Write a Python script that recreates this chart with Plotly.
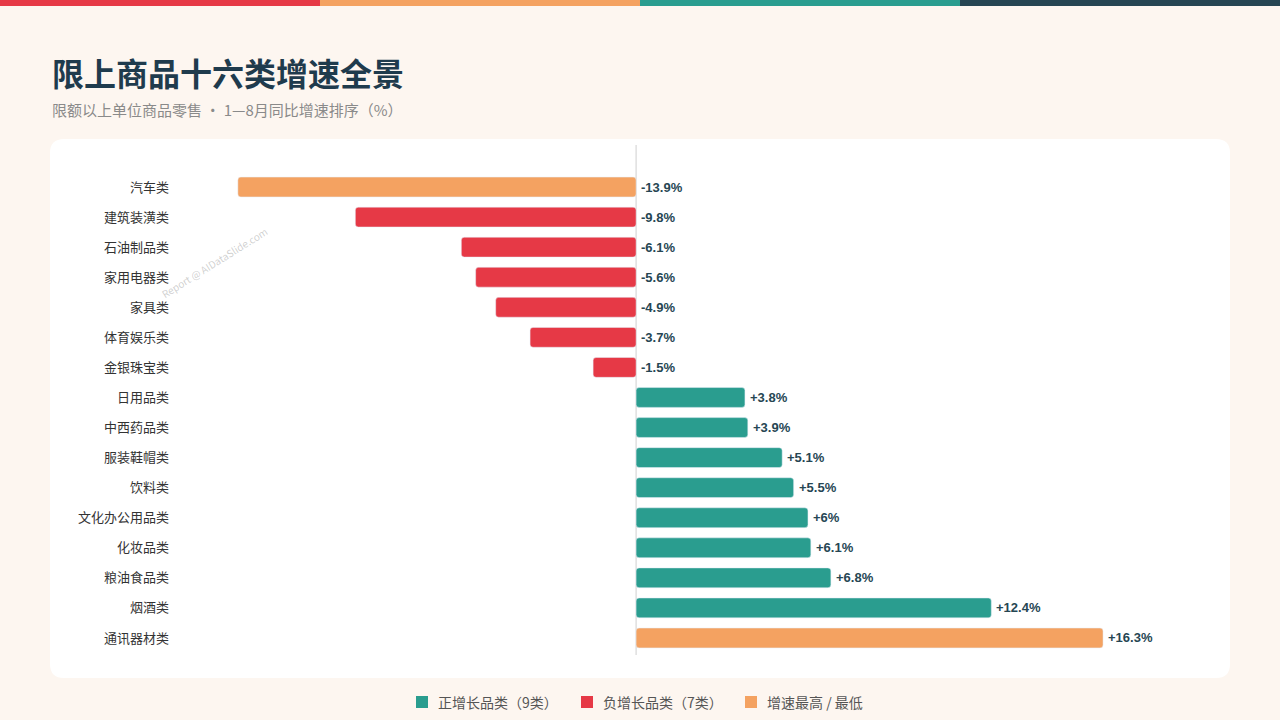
import plotly.graph_objects as go

# data
categories = ['汽车类', '建筑装潢类', '石油制品类', '家用电器类', '家具类', '体育娱乐类', '金银珠宝类',
              '日用品类', '中西药品类', '服装鞋帽类', '饮料类', '文化办公用品类', '化妆品类',
              '粮油食品类', '烟酒类', '通讯器材类']
growth = [-13.9, -9.8, -6.1, -5.6, -4.9, -3.7, -1.5, 3.8, 3.9, 5.1, 5.5, 6, 6.1, 6.8, 12.4, 16.3]
labels = ['-13.9%', '-9.8%', '-6.1%', '-5.6%', '-4.9%', '-3.7%', '-1.5%', '+3.8%', '+3.9%',
          '+5.1%', '+5.5%', '+6%', '+6.1%', '+6.8%', '+12.4%', '+16.3%']

GREEN, RED, ORANGE, DARK = '#2a9d8f', '#e63946', '#f4a261', '#264653'
FONT = 'Noto Sans CJK SC, sans-serif'
vmax, vmin = max(growth), min(growth)
colors = [ORANGE if v in (vmax, vmin) else (GREEN if v > 0 else RED) for v in growth]
base = [min(v, 0) for v in growth]
width = [abs(v) for v in growth]

fig = go.Figure(go.Bar(
    y=categories, x=width, base=base, orientation='h',
    marker=dict(color=colors, cornerradius=3), width=0.66,
    textposition='none', hoverinfo='skip'))

W, H = 1280, 720
px = lambda x: x / W
py = lambda y: 1 - y / H

# rounded card path in pixel coords -> paper
def rounded_rect(x0, y0, x1, y1, r):
    return (f'M {px(x0 + r)} {py(y0)} L {px(x1 - r)} {py(y0)} Q {px(x1)} {py(y0)} {px(x1)} {py(y0 + r)} '
            f'L {px(x1)} {py(y1 - r)} Q {px(x1)} {py(y1)} {px(x1 - r)} {py(y1)} '
            f'L {px(x0 + r)} {py(y1)} Q {px(x0)} {py(y1)} {px(x0)} {py(y1 - r)} '
            f'L {px(x0)} {py(y0 + r)} Q {px(x0)} {py(y0)} {px(x0 + r)} {py(y0)} Z')

shapes = []
# top stripe
for i, col in enumerate([RED, ORANGE, GREEN, DARK]):
    shapes.append(dict(type='rect', xref='paper', yref='paper', x0=i * 0.25, x1=(i + 1) * 0.25,
                       y0=py(6), y1=1, fillcolor=col, line_width=0, layer='below'))
# card
shapes.append(dict(type='path', xref='paper', yref='paper', path=rounded_rect(50, 139, 1230, 678, 14),
                   fillcolor='white', line_width=0, layer='below'))
# zero line
shapes.append(dict(type='line', xref='x', yref='paper', x0=0, x1=0, y0=py(655), y1=py(145),
                   line=dict(color='#cfcfcf', width=1), layer='below'))

annotations = [
    dict(x=px(50), y=py(72), xref='paper', yref='paper', xanchor='left', yanchor='middle',
         text='<b>限上商品十六类增速全景</b>', showarrow=False, font=dict(size=32, color='#1f3b4d')),
    dict(x=px(50), y=py(109), xref='paper', yref='paper', xanchor='left', yanchor='middle',
         text='限额以上单位商品零售 · 1—8月同比增速排序（%）', showarrow=False,
         font=dict(size=15, color='#8a8a8a', weight=400)),
    dict(x=px(214), y=py(262), xref='paper', yref='paper', xanchor='center', yanchor='middle',
         text='Report @ AIDataSlide.com', showarrow=False, textangle=-32,
         font=dict(size=10, color='rgba(150,150,150,0.45)')),
]
legend_items = [(GREEN, '正增长品类（9类）', 416), (RED, '负增长品类（7类）', 581), (ORANGE, '增速最高 / 最低', 745)]
for col, txt, x in legend_items:
    shapes.append(dict(type='rect', xref='paper', yref='paper', x0=px(x), x1=px(x + 12),
                       y0=py(708), y1=py(696), fillcolor=col, line_width=0))
    annotations.append(dict(x=px(x + 20), y=py(702), xref='paper', yref='paper', xanchor='left',
                            yanchor='middle', text=txt, showarrow=False,
                            font=dict(size=14, color='#555', weight=400)))

# value labels: right of zero for negatives, right of bar end for positives
for c, v, t in zip(categories, growth, labels):
    annotations.append(dict(x=max(v, 0), y=c, xref='x', yref='y', text=f'<b>{t}</b>', showarrow=False,
                            xanchor='left', yanchor='middle', xshift=3,
                            font=dict(size=13, color=DARK, family='Liberation Sans, Arial')))

fig.update_layout(
    width=W, height=H, margin=dict(l=0, r=0, t=0, b=0),
    paper_bgcolor='#fdf6f0', plot_bgcolor='rgba(0,0,0,0)',
    font=dict(family=FONT),
    showlegend=False, shapes=shapes, annotations=annotations,
    xaxis=dict(domain=[px(180), px(1140)], range=[-15.92, 17.59], visible=False),
    yaxis=dict(domain=[py(653), py(172)], autorange='reversed', showgrid=False,
               ticklabelstandoff=10, tickfont=dict(size=13, color='#333'), ticks=''),
)

fig.write_html('out.html', config={'displayModeBar': False},
               post_script="document.body.style.margin='0';")
